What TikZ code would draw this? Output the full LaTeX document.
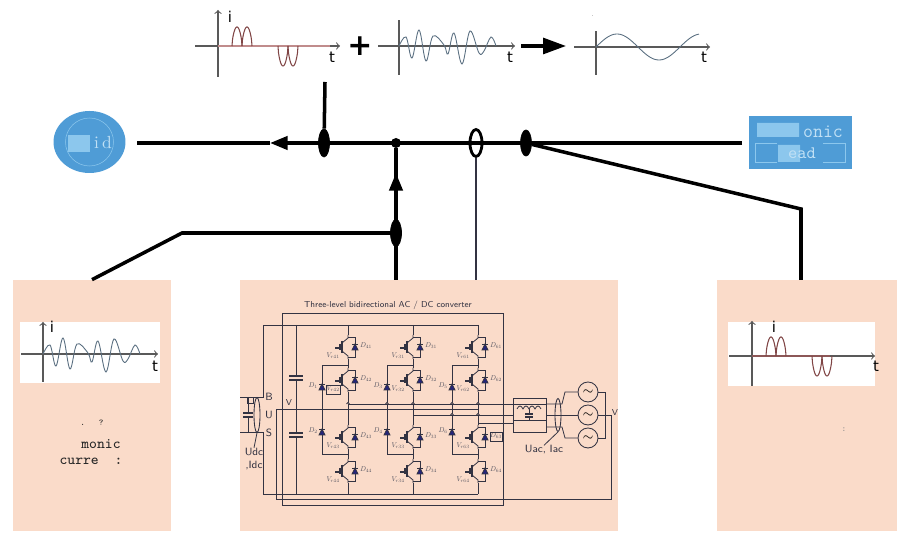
\documentclass[tikz,border=0pt]{standalone}
\usepackage{amsmath,amssymb}
\usepackage{fontspec}
\usepackage{tikz}
\usetikzlibrary{arrows.meta}
\usetikzlibrary{shapes.geometric}
\newfontfamily\wavefont{DejaVu Sans}
\definecolor{panelpeach}{rgb}{0.98,0.86,0.79}
\definecolor{logoblue}{rgb}{0.31,0.61,0.84}
\definecolor{logopale}{rgb}{0.55,0.78,0.93}
\definecolor{circuitgrey}{rgb}{0.2,0.2,0.26}
\definecolor{pulsered}{rgb}{0.5,0.27,0.27}
\definecolor{wavegrey}{rgb}{0.35,0.43,0.5}
\tikzset{
  panel/.style={fill=panelpeach,draw=none,inner sep=0pt},
  whitepanel/.style={fill=white,draw=none,inner sep=0pt},
  busline/.style={line width=2pt,black},
  busarrow/.style={busline,-{Triangle[length=10pt,width=7.5pt]}},
  oval/.style={draw=black,fill=black,ellipse,inner sep=0pt},
  wire/.style={line width=.45pt,circuitgrey},
  axisline/.style={line width=.6pt,black!65,->,>=to},
  wavelabel/.style={font=\wavefont\fontsize{8.5}{8.5}\selectfont,inner sep=0pt},
  tinylabel/.style={inner sep=0pt,circuitgrey!85},
  smalllabel/.style={font=\sffamily\fontsize{4.9}{6}\selectfont,inner sep=0pt,circuitgrey,align=center},
  monolabel/.style={font=\ttfamily\fontsize{8.4}{8.4}\selectfont,inner sep=0pt,black!85},
  paletext/.style={inner sep=0pt,logopale!55!white},
  sourcecircle/.style={draw=circuitgrey,circle,line width=.5pt,minimum size=.4cm,inner sep=0pt},
}
\newcommand{\tinymath}[1]{\scalebox{.4}{$#1$}}
% axes and curves, origin of the axes at #1,#2
\newcommand{\pulsewave}[2]{
  \begin{scope}[shift={(#1,#2)},pulsered,line width=.6pt]
    \draw plot[domain=0:180,samples=24] ({14+\x/18},{-19*pow(abs(sin(\x)),.6)});
    \draw plot[domain=0:180,samples=24] ({24+\x/18},{-19*pow(abs(sin(\x)),.6)});
    \draw plot[domain=0:180,samples=24] ({60+\x/18},{20*pow(abs(sin(\x)),.6)});
    \draw plot[domain=0:180,samples=24] ({70+\x/18},{20*pow(abs(sin(\x)),.6)});
  \end{scope}
}
\newcommand{\harmwave}[2]{
  \draw[wavegrey,line width=.5pt,shift={(#1,#2)}] plot[smooth,tension=.6] coordinates {
    (0,0) (7,-9) (13,12) (20,-16) (27,15) (34,-10) (45,-1) (49,8) (55,-13) (63,18) (71,-15) (80,7) (85,5) (92,-9) (97,0)};
}
% one switch with its diode on the leg at #1,#2
\newcommand{\igbtcell}[4]{
  \begin{scope}[shift={(#1,#2)}]
    \draw[wire] (0,-12) -- (0,-9) -- (-6,-4) (0,12) -- (0,9) -- (-6,4);
    \draw[wire,line width=.7pt] (-6,-6) -- (-6,6);
    \draw[wire,line width=.7pt] (-8,-3) -- (-8,3) (-8,1) -- (-13,1);
    \draw[wire] (0,-10) -- (7,-10) -- (7,10) -- (0,10);
    \draw[wire,fill=circuitgrey!70!blue] (4,3) -- (10,3) -- (7,-3) -- cycle;
    \draw[wire] (4,-3) -- (10,-3);
    \node[tinylabel] at (18,-1) {\tinymath{#3}};
    \node[tinylabel] at (-15,9) {\tinymath{#4}};
  \end{scope}
}
\newcommand{\clampdiode}[3]{
  \begin{scope}[shift={(#1,#2)}]
    \draw[wire,fill=circuitgrey!70!blue] (-3,3) -- (3,3) -- (0,-3) -- cycle;
    \draw[wire] (-3,-3) -- (3,-3);
    \node[tinylabel] at (-9,-1) {\tinymath{#3}};
  \end{scope}
}
\begin{document}
\begin{tikzpicture}[x=.02cm,y=-.02cm]
\useasboundingbox (0,0) rectangle (907,536);

% the three panels
\node[panel,minimum width=3.16cm,minimum height=5.02cm] (harmpanel) at (92,405.5) {};
\node[panel,minimum width=7.56cm,minimum height=5.02cm] (conv) at (429,405.5) {};
\node[panel,minimum width=3.6cm,minimum height=5.02cm] (loadpanel) at (807,405.5) {};
\node[whitepanel,minimum width=2.8cm,minimum height=1.22cm] (harmplot) at (90,352.5) {};
\node[whitepanel,minimum width=2.94cm,minimum height=1.28cm] (loadplot) at (801.5,354) {};

% grid and load
\node[ellipse,fill=logoblue,minimum width=1.44cm,minimum height=1.24cm,inner sep=0pt] (grid) at (89.5,142) {};
\draw[logopale,line width=.3pt] (grid) circle [x radius=24,y radius=24];
\fill[logopale] (68,135) rectangle (90,152);
\node[paletext,font=\rmfamily\fontsize{10}{10}\selectfont] (gridtext) at (103,143) {i\,d};
\node[rectangle,fill=logoblue,minimum width=2.06cm,minimum height=1.06cm,inner sep=0pt] (load) at (800.5,142.5) {};
\fill[logopale] (757,123) rectangle (799,137) (778,145) rectangle (800,162);
\draw[logopale,line width=.3pt] (777,143) -- (755,143) -- (755,162) -- (777,162) (823,143) -- (845,143) -- (845,162) -- (823,162);
\node[paletext,font=\ttfamily\fontsize{11}{11}\selectfont] (loadtexta) at (823,132) {onic};
\node[paletext,font=\ttfamily\fontsize{10}{10}\selectfont] (loadtextb) at (802,153) {ead};

% bus
\coordinate (gridend) at (137,143);
\coordinate (loadend) at (742,143);
\coordinate (tipright) at (496,143);
\coordinate (tipleft) at (270,143);
\coordinate (tipup) at (396,173);
\coordinate (wavefoot) at (325,82);
\coordinate (harmbend) at (182,233);
\coordinate (loadbend) at (801,209);
\coordinate (loadfoot) at (801,280);
\node[oval,minimum width=.22cm,minimum height=.56cm] (tapa) at (324,143) {};
\node[circle,fill=black,inner sep=0pt,minimum size=.2cm] (joint) at (396,143) {};
\node[draw=black,ellipse,line width=1.6pt,minimum width=.24cm,minimum height=.54cm,inner sep=0pt] (sensor) at (476,143) {};
\node[oval,minimum width=.22cm,minimum height=.52cm] (tapb) at (526,143) {};
\node[oval,minimum width=.22cm,minimum height=.54cm] (tapc) at (396,233) {};
\draw[busline] (loadend) -- (tipright);
\draw[busarrow] (tipright) -- (tipleft);
\draw[busline] (tipleft) -- (gridend);
\draw[busline] (wavefoot) -- (tapa);
\draw[busline] (joint) -- (conv.north -| joint);
\draw[busarrow] (conv.north -| joint) -- (tipup);
\draw[busline] (tapb) -- (loadbend) -- (loadfoot);
\draw[busline] (harmpanel.north) -- (harmbend) -- (tapc);
\draw[wire,line width=.6pt] (sensor) -- (sensor |- conv.north);

% waves on top
\draw[axisline] (195,46) -- (340,46);
\draw[axisline] (218,77) -- (218,10);
\draw[red!45!black!45,line width=.6pt] (218,46) -- (330,46);
\pulsewave{218}{46}
\node[wavelabel] (topi) at (230,17) {i};
\node[wavelabel] (topta) at (332,57) {t};
\node[font=\wavefont\bfseries\fontsize{17}{17}\selectfont,inner sep=0pt] (plus) at (360,46) {+};
\draw[axisline] (378,46) -- (515,46);
\draw[axisline,-] (399,75) -- (399,20);
\harmwave{399}{46}
\node[wavelabel] (toptb) at (510,57) {t};
\coordinate (sumstart) at (521,46);
\coordinate (sumend) at (566,46);
\draw[line width=1.8pt,-{Triangle[length=13pt,width=9pt]}] (sumstart) -- (sumend);
\draw[axisline] (574,47) -- (710,47);
\draw[axisline,-] (596,75) -- (596,31);
\draw[wavegrey,line width=.5pt] plot[domain=0:103,samples=60] ({596+\x},{47-13*sin(\x/84*360)});
\node[wavelabel] (toptc) at (704,57) {t};
\node[font=\sffamily\fontsize{3}{3}\selectfont,inner sep=0pt] (topdot) at (593,16) {.};

% left panel
\draw[axisline] (21,354) -- (158,354);
\draw[axisline] (43,382) -- (43,322);
\harmwave{43}{354}
\node[wavelabel] (harmi) at (52,327) {i};
\node[wavelabel] (harmt) at (155,366) {t};
\node[monolabel,font=\ttfamily\fontsize{5}{5}\selectfont] (harmbits) at (92,423) {.\ \ \ ?};
\node[monolabel] (harmtexta) at (101,444) {monic};
\node[monolabel] (harmtextb) at (91,461) {curre\ \ :};

% right panel
\draw[axisline] (729,356) -- (875,356);
\draw[axisline] (752,386) -- (752,321);
\draw[pulsered!90!white,line width=.6pt] (752,356) -- (830,356);
\pulsewave{752}{356}
\node[wavelabel] (loadi) at (774,327) {i};
\node[wavelabel] (loadt) at (876,366) {t};
\node[monolabel,font=\ttfamily\fontsize{5}{5}\selectfont,black!45] (loadbits) at (844,430) {:};

% converter
\node[smalllabel] (convtitle) at (388,305) {Three-level bidirectional AC / DC converter};
\coordinate (boxa) at (282,313);
\coordinate (boxb) at (503,505);
\draw[wire,line width=.5pt] (boxa) rectangle (boxb);
\draw[wire] (240,397) -- (263,397) -- (263,325) -- (478,325);
\draw[wire] (240,432) -- (263,432) -- (263,494) -- (478,494);
\draw[wire] (296,325) -- (296,376) (296,380) -- (296,433) (296,437) -- (296,494);
\draw[wire,line width=.9pt] (289,376) -- (303,376) (289,380) -- (303,380);
\draw[wire,line width=.9pt] (289,433) -- (303,433) (289,437) -- (303,437);
\draw[wire] (248,397) -- (248,413) (248,417) -- (248,432);
\draw[wire,line width=.7pt] (243,413) -- (253,413) (243,417) -- (253,417);
\draw[wire] (247,397) rectangle (253,403);
\draw[wire] (478,409) -- (276,409) -- (276,499) -- (611,499) -- (611,415);
\foreach \legx/\colnum/\clampa/\clampb in {348/4/1/2,413/3/3/4,478/6/5/6}{
  \draw[wire] (\legx,325) -- (\legx,335) (\legx,359) -- (\legx,368) (\legx,392) -- (\legx,425) (\legx,449) -- (\legx,459) (\legx,483) -- (\legx,494);
  \foreach \rowy/\rownum in {347/1,380/2,437/3,471/4}{
    \igbtcell{\legx}{\rowy}{D_{\colnum\rownum}}{V_{r\colnum\rownum}}
  }
  \draw[wire] (\legx,365) -- (\legx-26,365) -- (\legx-26,454) -- (\legx,454);
  \clampdiode{\legx-26}{387}{D_{\clampa}}
  \clampdiode{\legx-26}{432}{D_{\clampb}}
}
\draw[wire] (326,385) rectangle (340,394);
\draw[wire] (490,432) rectangle (502,441);
\draw[wire] (348,404) -- (513,404);
\draw[wire] (413,415) -- (513,415);
\draw[wire] (478,423) -- (513,423);
\foreach \hopx in {348,387,413,452,478}{
  \draw[wire,fill=panelpeach] (\hopx-1.5,404) arc[start angle=180,end angle=360,radius=1.5];
}
\foreach \hopx in {452,478}{
  \draw[wire,fill=panelpeach] (\hopx-1.5,415) arc[start angle=180,end angle=360,radius=1.5];
}

% filter and sources
\node[draw=circuitgrey,line width=.5pt,fill=panelpeach,minimum width=.66cm,minimum height=.68cm,inner sep=0pt] (filter) at (529.5,415) {};
\draw[wire] (filter.west |- 0,404) -- (filter.east |- 0,404);
\draw[wire] (filter.west |- 0,420) -- (filter.east |- 0,420);
\draw[wire] (517,409) .. controls (519,405) and (521,405) .. (523,409) .. controls (525,405) and (527,405) .. (529,409) .. controls (531,405) and (533,405) .. (535,409) .. controls (537,405) and (539,405) .. (541,409);
\draw[wire] (529,409) -- (529,414) (529,417) -- (529,420);
\draw[wire,line width=.8pt] (525,414) -- (533,414) (525,417) -- (533,417);
\node[sourcecircle] (srca) at (588,392) {$\scriptstyle\sim$};
\node[sourcecircle] (srcb) at (588,415) {$\scriptstyle\sim$};
\node[sourcecircle] (srcc) at (588,438) {$\scriptstyle\sim$};
\draw[wire] (546,404) -- (562,404) -- (565,392) -- (srca);
\draw[wire] (546,427) -- (562,427) -- (565,438) -- (srcc);
\draw[wire] (546,415) -- (srcb);
\draw[wire] (srca) -- (605,392) -- (605,438) -- (srcc);
\draw[wire] (srcb) -- (611,415);
\node[smalllabel] (vout) at (615,413) {V};
\node[smalllabel] (vbus) at (289,403) {V};

% current probes
\node[draw=circuitgrey,ellipse,line width=.5pt,minimum width=.12cm,minimum height=.7cm,inner sep=0pt] (probedc) at (257,415) {};
\node[draw=circuitgrey,ellipse,line width=.5pt,minimum width=.12cm,minimum height=.66cm,inner sep=0pt] (probeac) at (558,415) {};
\node[smalllabel,font=\sffamily\fontsize{6}{7.5}\selectfont] (dclabel) at (254,459) {Udc\\,Idc};
\node[smalllabel,font=\sffamily\fontsize{6}{7}\selectfont] (aclabel) at (544,450) {Uac, Iac};
\draw[wire] (probedc.south) -- (dclabel.north);
\draw[wire] (probeac.south) -- (aclabel.north);
\node[smalllabel,font=\sffamily\fontsize{6}{10.5}\selectfont] (buslabel) at (269,415) {B\\U\\S};
\end{tikzpicture}
\end{document}
